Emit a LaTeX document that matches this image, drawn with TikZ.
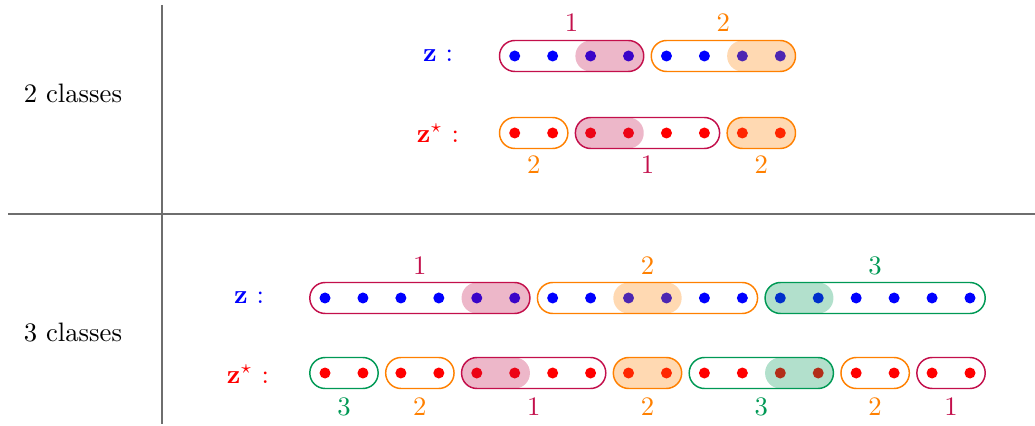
\documentclass[tikz,border=0pt]{standalone}
\definecolor{cone}{RGB}{195,15,75}
\definecolor{ctwo}{RGB}{255,128,0}
\definecolor{cthree}{RGB}{0,153,85}
\definecolor{rulegray}{RGB}{110,110,110}
\tikzset{
  rulestyle/.style={draw=rulegray,line width=0.6pt},
  pill/.style={line width=0.55pt,rounded corners=5.75pt},
  hl/.style={opacity=0.3,rounded corners=5.75pt},
  clab/.style={inner sep=1pt},
}
\newcommand{\drawdots}[4]{\foreach \i in {#2,...,#3}{\fill[#4] ({325+37.94*\i},#1) circle (5.5);}}
\newcommand{\hilite}[4]{\fill[#4,hl] ({325+37.94*#2-15.2},{#1-15.5}) rectangle ({325+37.94*#3+15.2},{#1+15.5});}
\newcommand{\capsule}[4]{\draw[#4,pill] ({325+37.94*#2-15.2},{#1-15.5}) rectangle ({325+37.94*#3+15.2},{#1+15.5});}
\newcommand{\clabel}[6]{\node[clab,text=#4] (#5) at ({325+37.94*(#2+#3)/2},#1) {#6};}
\begin{document}
\begin{tikzpicture}[x=0.375pt,y=-0.375pt]
\useasboundingbox (0,0) rectangle (1035,426);
% table rules
\coordinate (hl) at (8,214); \coordinate (hr) at (1035,214);
\coordinate (vt) at (162,5); \coordinate (vb) at (162,424);
\draw[rulestyle] (hl) -- (hr);
\draw[rulestyle] (vt) -- (vb);
\node (c2) at (73,93) {2 classes};
\node (c3) at (73,333) {3 classes};
% ---------- 2 classes ----------
\node[text=blue] (za) at (438,56) {$\mathbf{z}$ :};
\node[text=red] (zsa) at (438,133) {$\mathbf{z}^\star$ :};
\drawdots{56}{5}{12}{blue}
\drawdots{133}{5}{12}{red}
\hilite{56}{7}{8}{cone}
\hilite{56}{11}{12}{ctwo}
\hilite{133}{7}{8}{cone}
\hilite{133}{11}{12}{ctwo}
\capsule{56}{5}{8}{cone}
\capsule{56}{9}{12}{ctwo}
\capsule{133}{5}{6}{ctwo}
\capsule{133}{7}{10}{cone}
\capsule{133}{11}{12}{ctwo}
\clabel{23}{5}{8}{cone}{la1}{1}
\clabel{23}{9}{12}{ctwo}{la2}{2}
\clabel{165}{5}{6}{ctwo}{lb1}{2}
\clabel{165}{7}{10}{cone}{lb2}{1}
\clabel{165}{11}{12}{ctwo}{lb3}{2}
% ---------- 3 classes ----------
\node[text=blue] (zb) at (249,298) {$\mathbf{z}$ :};
\node[text=red] (zsb) at (248,374) {$\mathbf{z}^\star$ :};
\drawdots{298}{0}{17}{blue}
\drawdots{373}{0}{17}{red}
\hilite{298}{4}{5}{cone}
\hilite{298}{8}{9}{ctwo}
\hilite{298}{12}{13}{cthree}
\hilite{373}{4}{5}{cone}
\hilite{373}{8}{9}{ctwo}
\hilite{373}{12}{13}{cthree}
\capsule{298}{0}{5}{cone}
\capsule{298}{6}{11}{ctwo}
\capsule{298}{12}{17}{cthree}
\capsule{373}{0}{1}{cthree}
\capsule{373}{2}{3}{ctwo}
\capsule{373}{4}{7}{cone}
\capsule{373}{8}{9}{ctwo}
\capsule{373}{10}{13}{cthree}
\capsule{373}{14}{15}{ctwo}
\capsule{373}{16}{17}{cone}
\clabel{266}{0}{5}{cone}{lc1}{1}
\clabel{266}{6}{11}{ctwo}{lc2}{2}
\clabel{266}{12}{17}{cthree}{lc3}{3}
\clabel{407}{0}{1}{cthree}{ld1}{3}
\clabel{407}{2}{3}{ctwo}{ld2}{2}
\clabel{407}{4}{7}{cone}{ld3}{1}
\clabel{407}{8}{9}{ctwo}{ld4}{2}
\clabel{407}{10}{13}{cthree}{ld5}{3}
\clabel{407}{14}{15}{ctwo}{ld6}{2}
\clabel{407}{16}{17}{cone}{ld7}{1}
\end{tikzpicture}
\end{document}
